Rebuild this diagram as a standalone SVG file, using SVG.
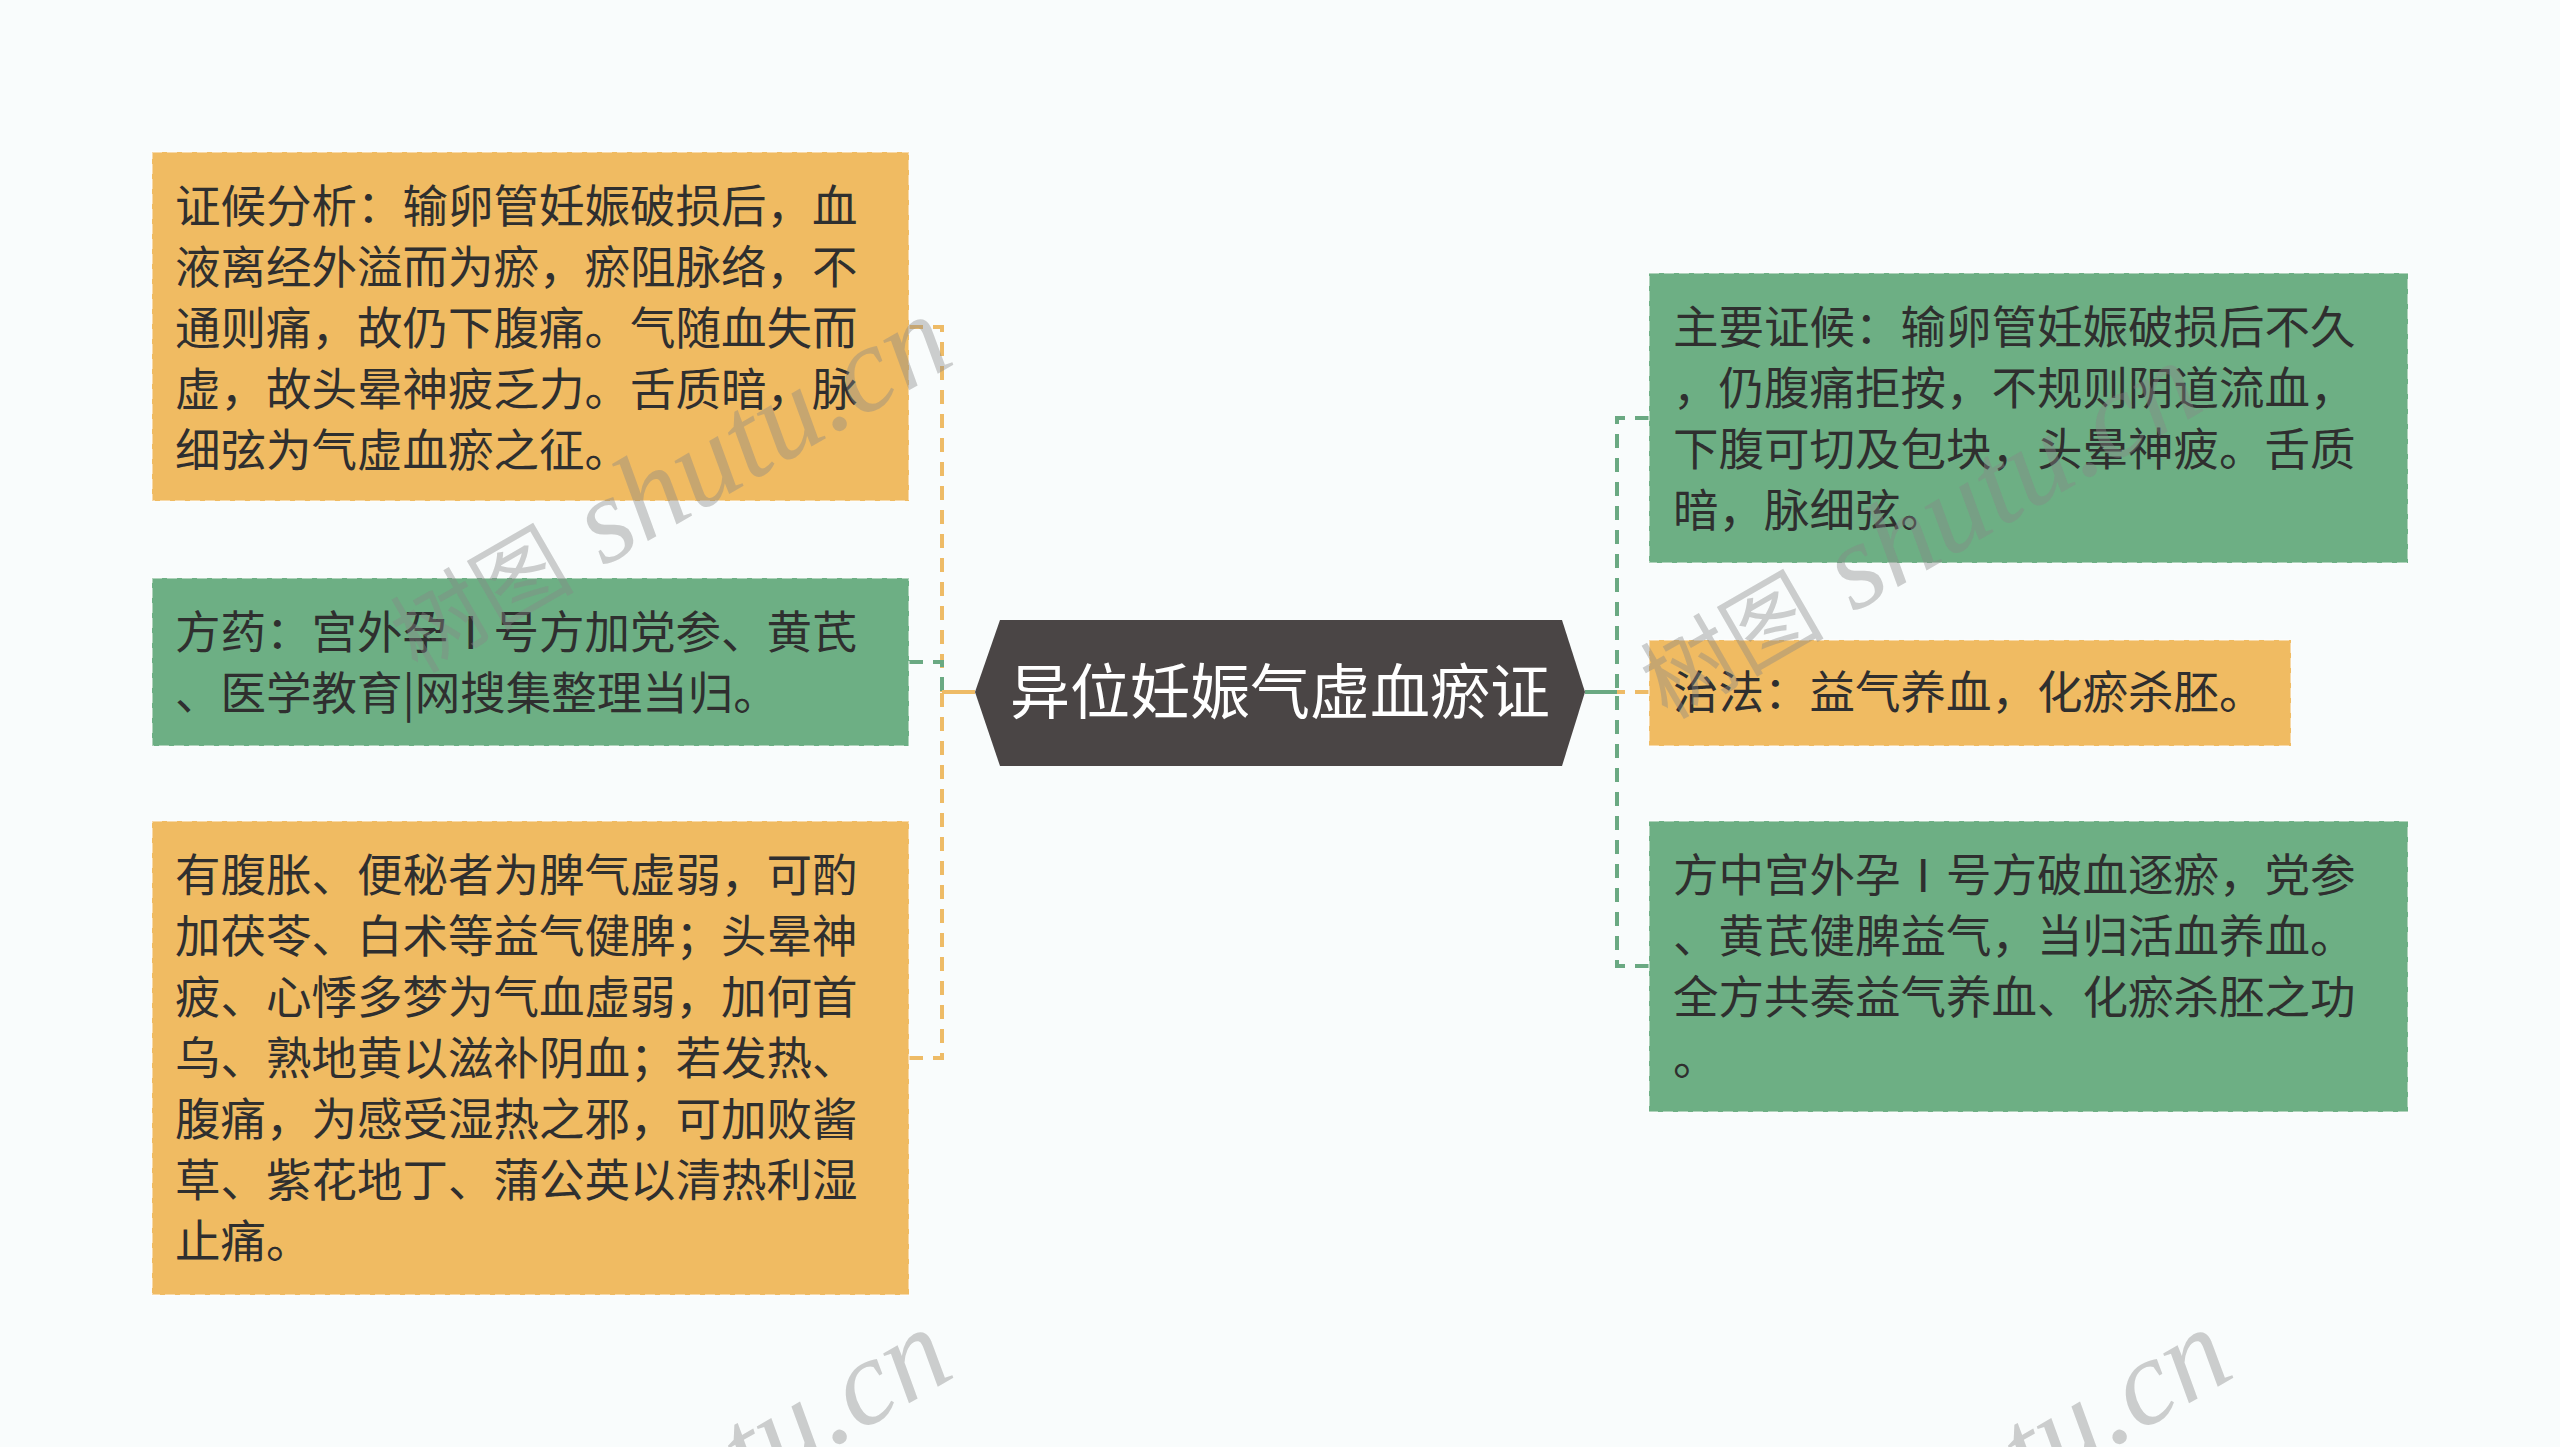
<svg xmlns="http://www.w3.org/2000/svg" width="2560" height="1447" viewBox="0 0 2560 1447">
<style>
.bg{fill:#f9fcfc}
.or{fill:#f0bb62}
.gr{fill:#6daf84}
.box{stroke:#ffffff;stroke-opacity:0.45;stroke-width:2;stroke-dasharray:10 5}
.t{font-family:"Noto Sans CJK SC","Noto Sans",sans-serif;font-size:45.5px;fill:#2f2f2f}
.ct{font-family:"Noto Sans CJK SC","Noto Sans",sans-serif;font-size:60px;fill:#ffffff}
.c{fill:none;stroke-width:4;stroke-dasharray:14 10}
.co{stroke:#eebb66}
.cg{stroke:#6aa982}
.wm{font-family:"Liberation Serif","Noto Serif CJK SC","Noto Sans CJK SC",serif;font-style:italic;font-size:122px;fill:#888888;fill-opacity:0.4}
.wc{font-family:"Noto Sans CJK SC",sans-serif;font-style:normal;font-size:92px}
</style>
<rect class="bg" x="0" y="0" width="2560" height="1447"/>
<g id="connectors">
<path class="c co" d="M909,327 H942 V692 H975"/>
<path class="c cg" d="M909,662 H942 V692"/>
<path class="c co" d="M909,1058 H942 V692 H975"/>
<line x1="942" y1="692" x2="975" y2="692" stroke="#eebb66" stroke-width="4"/>
<path class="c cg" d="M1649,418 H1617 V692 H1585"/>
<path class="c co" d="M1649,692 H1617"/>
<path class="c cg" d="M1649,966 H1617 V692 H1585"/>
<line x1="1585" y1="692" x2="1617" y2="692" stroke="#6aa982" stroke-width="4"/>
</g>
<g id="center">
<polygon points="975,692 1000,620 1562,620 1585,692 1562,766 1000,766" fill="#4a4545"/>
<text class="ct" x="1280" y="714" text-anchor="middle">异位妊娠气虚血瘀证</text>
</g>
<g id="l1">
<rect class="or box" x="152" y="152" width="757" height="349"/>
<text class="t" x="175" y="223">证候分析：输卵管妊娠破损后，血</text>
<text class="t" x="175" y="284">液离经外溢而为瘀，瘀阻脉络，不</text>
<text class="t" x="175" y="345">通则痛，故仍下腹痛。气随血失而</text>
<text class="t" x="175" y="406">虚，故头晕神疲乏力。舌质暗，脉</text>
<text class="t" x="175" y="467">细弦为气虚血瘀之征。</text>
</g>
<g id="l2">
<rect class="gr box" x="152" y="578" width="757" height="168"/>
<text class="t" x="175" y="649">方药：宫外孕Ⅰ号方加党参、黄芪</text>
<text class="t" x="175" y="710">、医学教育|网搜集整理当归。</text>
</g>
<g id="l3">
<rect class="or box" x="152" y="821" width="757" height="474"/>
<text class="t" x="175" y="892">有腹胀、便秘者为脾气虚弱，可酌</text>
<text class="t" x="175" y="953">加茯苓、白术等益气健脾；头晕神</text>
<text class="t" x="175" y="1014">疲、心悸多梦为气血虚弱，加何首</text>
<text class="t" x="175" y="1075">乌、熟地黄以滋补阴血；若发热、</text>
<text class="t" x="175" y="1136">腹痛，为感受湿热之邪，可加败酱</text>
<text class="t" x="175" y="1197">草、紫花地丁、蒲公英以清热利湿</text>
<text class="t" x="175" y="1258">止痛。</text>
</g>
<g id="r1">
<rect class="gr box" x="1649" y="273" width="759" height="290"/>
<text class="t" x="1673" y="344">主要证候：输卵管妊娠破损后不久</text>
<text class="t" x="1673" y="405">，仍腹痛拒按，不规则阴道流血，</text>
<text class="t" x="1673" y="466">下腹可切及包块，头晕神疲。舌质</text>
<text class="t" x="1673" y="527">暗，脉细弦。</text>
</g>
<g id="r2">
<rect class="or box" x="1649" y="640" width="642" height="106"/>
<text class="t" x="1673" y="709">治法：益气养血，化瘀杀胚。</text>
</g>
<g id="r3">
<rect class="gr box" x="1649" y="821" width="759" height="291"/>
<text class="t" x="1673" y="892">方中宫外孕Ⅰ号方破血逐瘀，党参</text>
<text class="t" x="1673" y="953">、黄芪健脾益气，当归活血养血。</text>
<text class="t" x="1673" y="1014">全方共奏益气养血、化瘀杀胚之功</text>
<text class="t" x="1673" y="1075">。</text>
</g>
<g id="watermark">
<text class="wm" text-anchor="end" transform="translate(958,362) rotate(-30)"><tspan class="wc">树图</tspan> shutu.cn</text>
<text class="wm" text-anchor="end" transform="translate(2208,408) rotate(-30)"><tspan class="wc">树图</tspan> shutu.cn</text>
<text class="wm" text-anchor="end" transform="translate(958,1375) rotate(-30)"><tspan class="wc">树图</tspan> shutu.cn</text>
<text class="wm" text-anchor="end" transform="translate(2238,1375) rotate(-30)"><tspan class="wc">树图</tspan> shutu.cn</text>
</g>
</svg>
